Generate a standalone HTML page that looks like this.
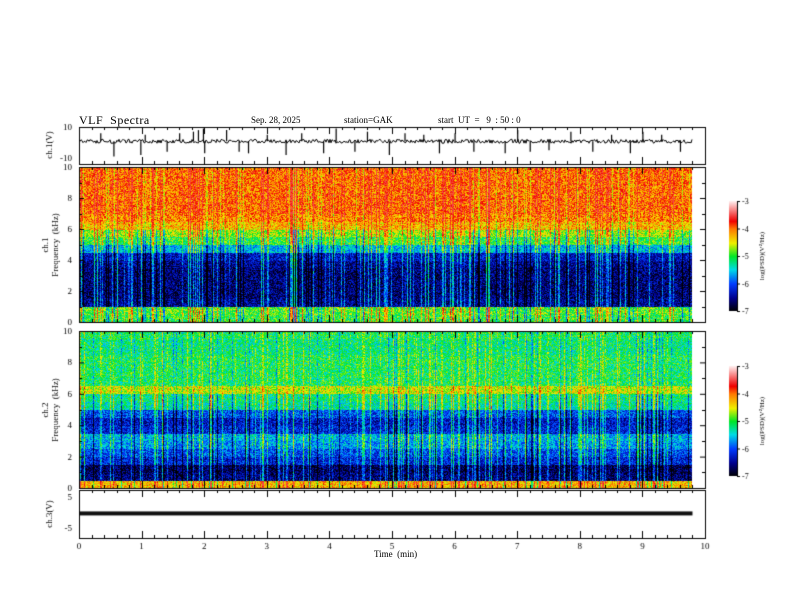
<!DOCTYPE html>
<html><head><meta charset="utf-8">
<style>
body{margin:0;background:#fff;width:792px;height:612px;overflow:hidden;font-family:"Liberation Serif",serif;}
#wrap{position:relative;width:792px;height:612px;}
canvas{position:absolute;left:0;top:0;}
.t{position:absolute;font-size:10px;color:#000;white-space:nowrap;}
</style></head><body>
<div id="wrap">
<canvas id="cv" width="792" height="612"></canvas>
<div class="t" style="left:79px;top:113px;font-size:12px;letter-spacing:0.5px">VLF&nbsp; Spectra</div>
<div class="t" style="left:251px;top:115px;font-size:9px">Sep. 28, 2025</div>
<div class="t" style="left:344px;top:115px;font-size:9px">station=GAK</div>
<div class="t" style="left:438px;top:115px;font-size:9px">start&nbsp; UT&nbsp; =&nbsp;&nbsp; 9&nbsp; : 50 : 0</div>
<div class="t" style="left:374px;top:549px;font-size:9px">Time&nbsp; (min)</div>
</div>
<script>
// ---------- data ----------
const timeTicks=[0,1,2,3,4,5,6,7,8,9,10];
const freqTicks=[0,2,4,6,8,10];
// ch.1 spectrum level (log PSD) per 0.5 kHz band, 0..10 kHz
const ch1Profile=[-5.0,-4.9,-6.5,-6.6,-6.6,-6.6,-6.6,-6.5,-6.3,-5.6,-5.0,-4.7,-4.3,-4.1,-4.0,-4.0,-4.0,-4.0,-4.0,-4.0];
// ch.2 spectrum level per 0.5 kHz band
const ch2Profile=[-4.3,-6.6,-6.7,-6.2,-6.0,-5.7,-5.6,-6.2,-6.3,-6.0,-5.3,-5.2,-4.6,-5.1,-5.1,-5.1,-5.1,-5.2,-5.2,-5.1];
// broadband burst intensity per 0.1 min (0..9.8 min)
const bursts=[0.8,0.6,0.9,0.5,0.7,0.6,0.9,0.4,0.6,0.8,0.5,0.6,0.7,0.9,0.5,0.6,0.4,0.8,0.6,0.7,0.9,0.5,0.6,0.3,0.5,0.7,0.6,0.4,0.5,0.8,0.6,0.5,0.7,0.6,0.9,0.8,0.5,0.6,0.4,0.5,0.4,0.6,0.5,0.3,0.5,0.6,0.7,0.8,0.6,0.5,0.7,0.6,0.8,0.5,0.6,0.9,0.5,0.6,0.7,0.8,0.6,0.5,0.7,0.6,0.8,0.9,0.6,0.5,0.7,0.6,0.5,0.8,0.6,0.7,0.5,0.6,0.7,0.8,0.6,0.5,0.7,0.6,0.8,0.6,0.5,0.9,0.6,0.7,0.5,0.6,0.8,0.6,0.7,0.5,0.6,0.7,0.6,0.5,0.6];
// ch.1 waveform spikes: [time min, amplitude V]
const spikeTimes=[0.34,0.55,0.98,1.05,1.4,1.6,1.82,1.9,1.98,2.0,2.35,2.55,2.7,3.0,3.3,3.55,3.9,4.1,4.4,4.6,4.95,5.2,5.5,5.75,6.0,6.3,6.8,7.0,7.2,7.5,7.85,8.2,8.5,8.8,9.0,9.3,9.6];
const spikeAmps=[6,-9,-8,5,-6,6,7,8,9,-7,8,-6,-7,5,-8,6,-7,9,-6,7,-8,6,5,-7,6,-6,-7,8,-6,-5,7,-6,5,-7,7,5,-6];
const cbTicks=[-3,-4,-5,-6,-7];
// ---------- drawing ----------
const c=document.getElementById('cv').getContext('2d');
const X0=79,X1=705;
const xs=t=>X0+(X1-X0)*t/10;
const panels={w1:[127,164],s1:[167,322],s2:[331,488],w3:[490,538]};
function hash(a,b){let h=(a*374761393+b*668265263)^0x5bd1e995;h=(h^(h>>>13))*1274126177;return ((h^(h>>>16))>>>0)/4294967296;}
function cmap(v){
  let f=Math.max(0,Math.min(1,(v+7)/4));
  const st=[[0,0,0,0],[0.12,0,0,140],[0.25,0,60,255],[0.38,0,220,230],[0.5,0,230,40],[0.62,240,240,0],[0.75,255,120,0],[0.82,240,0,0],[1,255,235,235]];
  for(let i=1;i<st.length;i++){if(f<=st[i][0]){const a=st[i-1],b=st[i],u=(f-a[0])/(b[0]-a[0]);return [a[1]+(b[1]-a[1])*u,a[2]+(b[2]-a[2])*u,a[3]+(b[3]-a[3])*u];}}
  return [255,235,235];
}
function spec(prof,y0,y1,seed,gain){
  const W=Math.round(xs(9.8))-X0,H=y1-y0;
  const img=c.createImageData(W,H);
  for(let x=0;x<W;x++){
    const t=x/(X1-X0)*10;const bi=Math.min(bursts.length-1,Math.floor(t*10));
    const colB=(hash(x,seed)>0.8?bursts[bi]*gain:0)+(hash(x,seed+7)>0.9?-0.8:0);
    for(let y=0;y<H;y++){
      const f=(H-y)/H*10;const k=Math.min(19,Math.floor(f*2));
      let v=prof[k]+colB*(f>6?0.5:1)+(hash(x*3+y,seed+y)-0.5)*0.9;
      v=Math.min(v,-3.5);
      const [r,g,b]=cmap(v);const p=(y*W+x)*4;
      img.data[p]=r;img.data[p+1]=g;img.data[p+2]=b;img.data[p+3]=255;
    }
  }
  c.putImageData(img,X0,y0);
}
spec(ch1Profile,panels.s1[0],panels.s1[1],11,1.3);
spec(ch2Profile,panels.s2[0],panels.s2[1],23,1.2);
// waveform ch1
c.strokeStyle='#000';c.lineWidth=1;c.beginPath();
const ym1=v=>(127+158)/2-v/10*((158-127)/2);
const W9=xs(9.8);
for(let x=X0;x<=W9;x++){const y=ym1(0.8)+(hash(x,5)-0.5)*4;x==X0?c.moveTo(x,y):c.lineTo(x,y);}
c.stroke();
c.lineWidth=1.2;
spikeTimes.forEach((t,i)=>{c.beginPath();c.moveTo(xs(t)+0.5,ym1(0.8));c.lineTo(xs(t)+0.5,ym1(spikeAmps[i]));c.stroke();});
// ch3
const ym3=v=>512.5-v/5*15.5;
c.fillStyle='#111';c.fillRect(X0,ym3(-0.3)-2,W9-X0,4);
// frames & ticks
c.strokeStyle='#000';c.lineWidth=1;
Object.values(panels).forEach(([a,b])=>{c.strokeRect(X0+0.5,a+0.5,X1-X0,b-a);
  for(let i=0;i<=50;i++){const x=Math.round(X0+(X1-X0)*i/50)+0.5;const L=i%5==0?7:3;
    c.beginPath();c.moveTo(x,a);c.lineTo(x,a+L);c.moveTo(x,b);c.lineTo(x,b-L);c.stroke();}
});
c.fillStyle='#000';c.font='9px "Liberation Serif",serif';c.textAlign='center';
timeTicks.forEach(t=>c.fillText(String(t),xs(t),549));
c.textAlign='right';
[['s1'],['s2']].forEach(([k])=>{const [a,b]=panels[k];
  freqTicks.forEach(f=>{const y=b-(b-a)*f/10;c.fillText(String(f),72,y+3);
   c.beginPath();c.moveTo(X0,y+0.5);c.lineTo(X0+5,y+0.5);c.moveTo(X1,y+0.5);c.lineTo(X1-5,y+0.5);c.stroke();});
  for(let f=1;f<10;f+=2){const y=Math.round(b-(b-a)*f/10)+0.5;c.beginPath();c.moveTo(X0,y);c.lineTo(X0+3,y);c.moveTo(X1,y);c.lineTo(X1-3,y);c.stroke();}
});
c.fillText('10',72,130);c.fillText('-10',72,161);
c.fillText('5',72,500);c.fillText('-5',72,531);
function vt(txt,x,y){c.save();c.translate(x,y);c.rotate(-Math.PI/2);c.textAlign='center';c.fillText(txt,0,0);c.restore();}
vt('ch.1(V)',52,145);vt('ch.1',48,245);vt('Frequency  (kHz)',58,245);
vt('ch.2',48,410);vt('Frequency  (kHz)',58,410);vt('ch.3(V)',52,514);
function cbar(y0,y1){const x=729,w=8;
  for(let y=y0;y<y1;y++){const v=-3-4*(y-y0)/(y1-y0);const [r,g,b]=cmap(v);c.fillStyle=`rgb(${r|0},${g|0},${b|0})`;c.fillRect(x,y,w,1);}
  c.strokeStyle='#000';c.beginPath();c.moveTo(x+w+0.5,y0);c.lineTo(x+w+0.5,y1);c.stroke();
  c.fillStyle='#000';c.font='8px "Liberation Serif",serif';c.textAlign='left';
  cbTicks.forEach(v=>{const y=y0+(y1-y0)*(-3-v)/4;c.beginPath();c.moveTo(x+w,y+0.5);c.lineTo(x+w+3,y+0.5);c.stroke();c.fillText(String(v),x+w+5,y+3);});
  c.save();c.translate(764,(y0+y1)/2);c.rotate(-Math.PI/2);c.textAlign='center';c.font='7px "Liberation Serif",serif';c.fillText('log(PSD)(V²/Hz)',0,0);c.restore();
}
cbar(201,311);cbar(366,476);
</script>
</body></html>
